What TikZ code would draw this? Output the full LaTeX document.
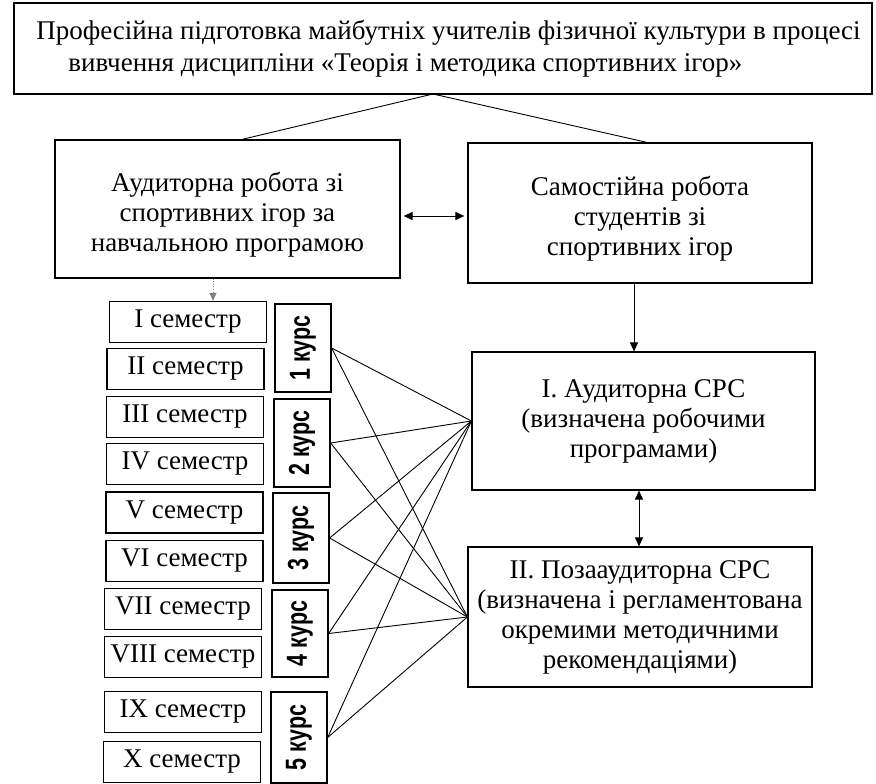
\documentclass[tikz,border=0pt]{standalone}
\usepackage{fontspec}
\setmainfont{Liberation Serif}
\newfontfamily\kursfont{Liberation Sans}
\usetikzlibrary{arrows.meta,calc}
\begin{document}
\begin{tikzpicture}[x=1pt,y=-1pt,
  box/.style={draw,line width=1.2pt,inner sep=0pt,align=center,font=\fontsize{27}{30}\selectfont},
  sem/.style={draw,line width=1.3pt,inner sep=0pt,minimum width=157pt,minimum height=41pt,font=\fontsize{27}{27}\selectfont},
  kurs/.style={draw,line width=1.3pt,inner sep=0pt,minimum width=56pt,minimum height=88pt},
  link/.style={line width=0.9pt},
  arr/.style={line width=1pt,-{Triangle[width=8pt,length=9pt]}},
  darr/.style={line width=1pt,{Triangle[width=8pt,length=9pt]}-{Triangle[width=8pt,length=9pt]}}
]
\useasboundingbox (0,0) rectangle (876,784);
\newcommand{\kt}[1]{\rotatebox{90}{\scalebox{0.74}[1]{\kursfont\bfseries\fontsize{29}{29}\selectfont #1}}}

\node[box,minimum width=858pt,minimum height=91pt,align=left,font=\fontsize{27}{32}\selectfont] (top) at (443,48.5)
  {\hspace*{11pt}Професійна підготовка майбутніх учителів фізичної культури в процесі\\
   \hspace*{43pt}вивчення дисципліни «Теорія і методика спортивних ігор»};

\node[box,minimum width=345pt,minimum height=138pt] (aud) at (227.5,209)
  {\rule{0pt}{31pt}Аудиторна робота зі\\спортивних ігор за\\навчальною програмою};
\node[box,minimum width=344pt,minimum height=140pt] (sam) at (640,213)
  {\rule{0pt}{31pt}Самостійна робота\\студентів зі\\спортивних ігор};

\node[box,minimum width=343pt,minimum height=138pt] (srs1) at (643.5,421)
  {I. Аудиторна СРС\\(визначена робочими\\програмами)};
\node[box,minimum width=344pt,minimum height=140pt] (srs2) at (640,617)
  {II. Позааудиторна СРС\\(визначена і регламентована\\окремими методичними\\рекомендаціями)};

\node[sem] (s1) at (188,322) {I семестр};
\node[sem] (s2) at (185.5,369) {II семестр};
\node[sem] (s3) at (185,417) {III семестр};
\node[sem] (s4) at (185,464) {IV семестр};
\node[sem] (s5) at (184.5,512.5) {V семестр};
\node[sem] (s6) at (184.5,561) {VI семестр};
\node[sem] (s7) at (183,609) {VII семестр};
\node[sem] (s8) at (183,657) {VIII семестр};
\node[sem] (s9) at (183,712) {IX семестр};
\node[sem] (s10) at (182,762) {X семестр};

\node[kurs] (k1) at (303,348) {\kt{1 курс}};
\node[kurs] (k2) at (302,443) {\kt{2 курс}};
\node[kurs,minimum height=90pt] (k3) at (301,538) {\kt{3 курс}};
\node[kurs,minimum height=87pt] (k4) at (300,633.5) {\kt{4 курс}};
\node[kurs,minimum height=91pt] (k5) at (299,737.5) {\kt{5 курс}};

\coordinate (apex) at (433,94);
\coordinate (ca) at (242,0);
\coordinate (cb) at (647,0);
\coordinate (cc) at (634,0);
\coordinate (cd) at (639,0);
\coordinate (ce) at (213,0);

\draw[link] (aud.north -| ca) -- (apex) -- (sam.north -| cb);
\draw[darr] ($(aud.east)+(3,7)$) -- ($(sam.west |- aud.east)+(-3,7)$);
\draw[arr] (sam.south -| cc) -- (srs1.north -| cc);
\draw[darr] (srs1.south -| cd) -- (srs2.north -| cd);
\draw[gray,line width=0.6pt,dotted,-{Triangle[width=7pt,length=8pt]}] (aud.south -| ce) -- (s1.north -| ce);

\foreach \k in {k1,k2,k3,k4,k5}{
  \draw[link] (\k.east) -- (srs1.west);
  \draw[link] (\k.east) -- (srs2.west);
}
\end{tikzpicture}
\end{document}
